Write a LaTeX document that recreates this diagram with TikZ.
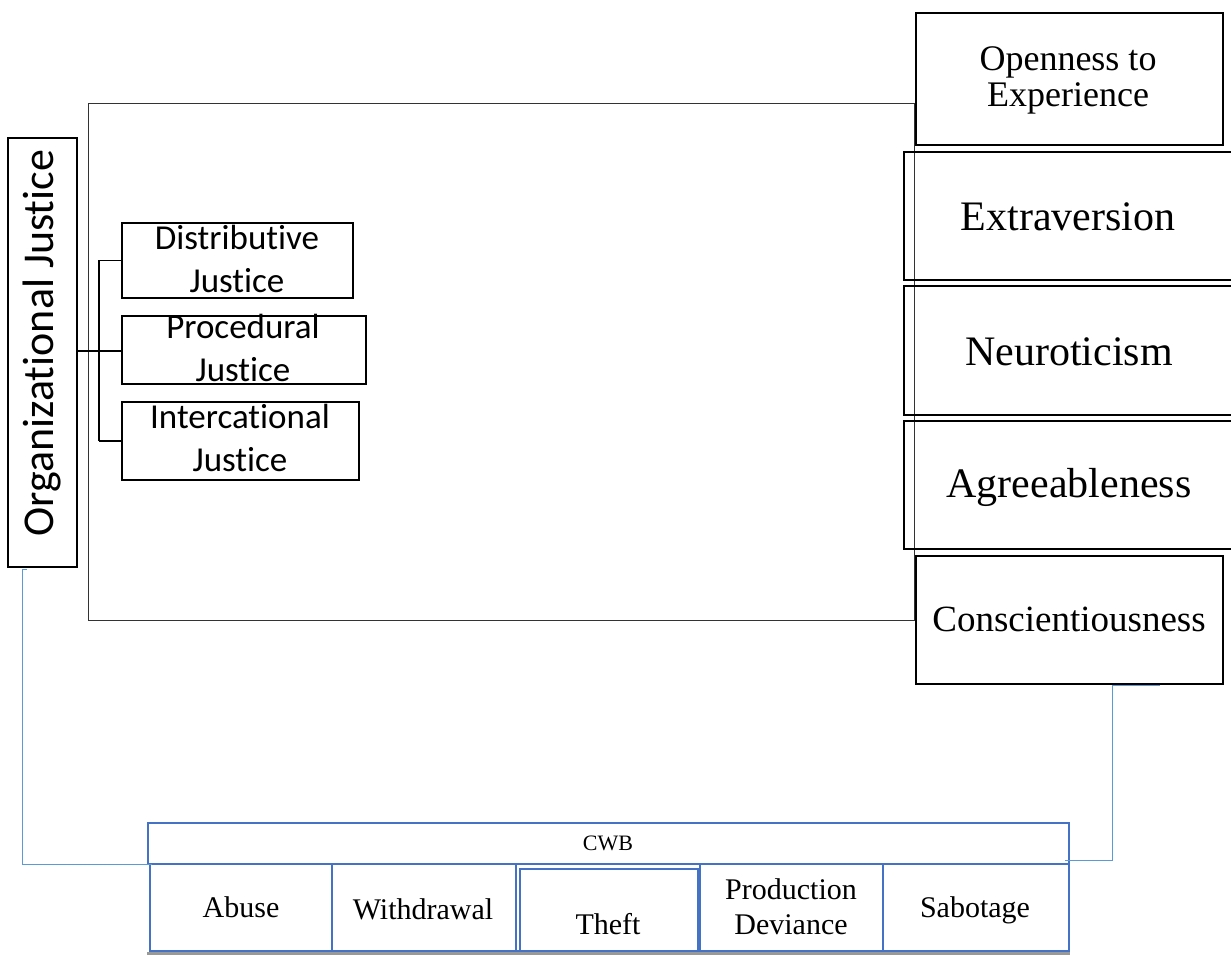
\documentclass[tikz,border=0pt]{standalone}
\usepackage{fontspec}
\setmainfont{Liberation Serif}
\newfontfamily\calib[Ligatures=NoCommon]{Carlito}
\usetikzlibrary{calc}
\definecolor{boxblue}{HTML}{4472C4}
\definecolor{linkblue}{HTML}{5B9BD5}
\tikzset{
  blk/.style={draw=black, line width=1.6pt, inner sep=0pt, anchor=north west},
  cell/.style={draw=boxblue, line width=1.6pt, inner sep=0pt, anchor=north west},
  lbl/.style={inner sep=0pt, align=center},
  frame/.style={draw=black!80, line width=0.9pt},
  link/.style={draw=linkblue, line width=1pt},
  brk/.style={draw=black, line width=1.6pt}
}
\begin{document}
\begin{tikzpicture}[x=1pt,y=-1pt]
\useasboundingbox (0,0) rectangle (1231,954);
% big frame
\draw[frame] (88,103) rectangle (914,620);
% Organizational justice
\node[blk, minimum width=69pt, minimum height=429pt] (oj) at (7,137) {};
\node[lbl, rotate=90, font=\calib\fontsize{44}{53}\selectfont] (ojt) at (42,343) {Organizational Justice};
% sub justice boxes
\node[blk, minimum width=231pt, minimum height=75pt] (dj) at (121,222) {};
\node[lbl, font=\calib\fontsize{35}{43}\selectfont] (djt) at (237,259) {Distributive\\Justice};
\node[blk, minimum width=244pt, minimum height=68pt] (pj) at (121,315) {};
\node[lbl, font=\calib\fontsize{35}{43}\selectfont] (pjt) at (243,348) {Procedural\\Justice};
\node[blk, minimum width=237pt, minimum height=78pt] (ij) at (121,401) {};
\node[lbl, font=\calib\fontsize{35}{43}\selectfont] (ijt) at (240,438) {Intercational\\Justice};
% bracket
\coordinate (bx) at (99,351);
\draw[brk] (oj.east |- bx) -- (pj.west |- bx);
\draw[brk] (99,0 |- dj.west) -- (dj.west);
\draw[brk] (99,0 |- ij.west) -- (ij.west);
\draw[brk] (99,0 |- dj.west) -- (99,0 |- ij.west);
% personality boxes
\node[blk, minimum width=307pt, minimum height=132pt] (op) at (915,12) {};
\node[lbl, font=\fontsize{36}{36}\selectfont] (opt) at (1068,80) {Openness to\\Experience};
\node[blk, minimum width=332pt, minimum height=128pt] (ex) at (903,151) {};
\node[lbl, font=\fontsize{42}{48}\selectfont] (ext) at (1068,217) {Extraversion};
\node[blk, minimum width=332pt, minimum height=129pt] (ne) at (903,285) {};
\node[lbl, font=\fontsize{42}{48}\selectfont] (net) at (1069,352) {Neuroticism};
\node[blk, minimum width=332pt, minimum height=128pt] (ag) at (903,420) {};
\node[lbl, font=\fontsize{42}{48}\selectfont] (agt) at (1069,487) {Agreeableness};
\node[blk, minimum width=307pt, minimum height=128pt] (co) at (915,555) {};
\node[lbl, font=\fontsize{37}{44}\selectfont] (cot) at (1069,619) {Conscientiousness};
% CWB
\node[cell, minimum width=921pt, minimum height=41pt] (cwb) at (147,822) {};
\node[lbl, font=\fontsize{22}{26}\selectfont] (cwbt) at (608,843) {CWB};
\node[cell, minimum width=182pt, minimum height=87pt] (ab) at (149,863) {};
\node[lbl, font=\fontsize{30}{35}\selectfont] (abt) at (241,907) {Abuse};
\node[cell, minimum width=184pt, minimum height=87pt] (wd) at (331,863) {};
\node[lbl, font=\fontsize{30}{35}\selectfont] (wdt) at (423,909) {Withdrawal};
\node[cell, minimum width=184pt, minimum height=87pt] (th) at (515,863) {};
\node[cell, minimum width=178pt, minimum height=82pt] (thi) at (519,868) {};
\node[lbl, font=\fontsize{30}{35}\selectfont] (tht) at (608,924) {Theft};
\node[cell, minimum width=183pt, minimum height=87pt] (pd) at (699,863) {};
\node[lbl, font=\fontsize{30}{35}\selectfont] (pdt) at (791,907) {Production\\Deviance};
\node[cell, minimum width=186pt, minimum height=87pt] (sb) at (882,863) {};
\node[lbl, font=\fontsize{30}{35}\selectfont] (sbt) at (975,910) {Sabotage};
\draw[draw=black!40, line width=3pt] ($(ab.south west)+(-2,1.5)$) -- ($(sb.south east)+(0,1.5)$);
% connectors
\coordinate (l0) at (27,569);
\coordinate (l1) at (152,864);
\draw[link] (l0) -- (22,569) -- (22,864) -- (l1);
\coordinate (r0) at (1160,685);
\coordinate (r1) at (1065,860);
\draw[link] (r0) -- (1112,685) -- (1112,860) -- (r1);
\end{tikzpicture}
\end{document}
